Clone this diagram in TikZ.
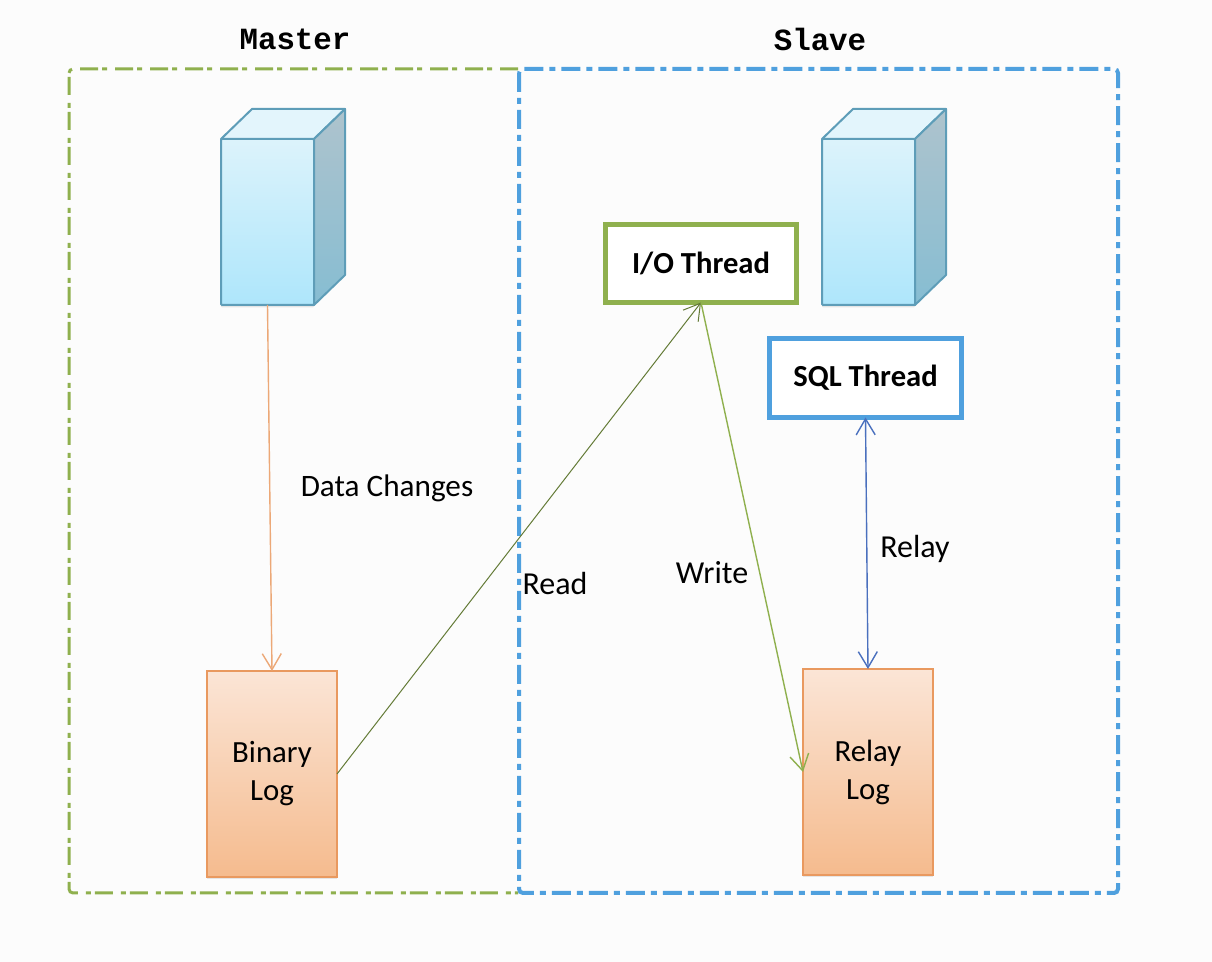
\documentclass[tikz,border=0pt]{standalone}
\usepackage{fontspec}
\setmainfont{Carlito}
\newfontfamily\titlefont{Liberation Mono}
\usetikzlibrary{arrows.meta,shadows}

\definecolor{masterGreen}{HTML}{8FB04E}
\definecolor{slaveBlue}{HTML}{4FA0DE}
\definecolor{logEdge}{HTML}{E9995F}
\definecolor{boxEdge}{HTML}{5E9DB8}
\definecolor{relayBlue}{HTML}{4A70BE}
\definecolor{logTop}{HTML}{FBE5D6}
\definecolor{logBottom}{HTML}{F5BB8E}
\definecolor{frontTop}{HTML}{DCF3FB}
\definecolor{frontBottom}{HTML}{AEE6FB}
\definecolor{topFace}{HTML}{E3F5FC}
\definecolor{sideTop}{HTML}{AEC3CD}
\definecolor{sideBottom}{HTML}{86BDD2}

\tikzset{
  >={Straight Barb[length=8pt,width=9.5pt]},
  softshadow/.style={drop shadow={shadow xshift=0pt,shadow yshift=-1.2pt,opacity=.18}},
  frame/.style={rounded corners=2pt},
  thread/.style={draw,fill=white,outer sep=0pt,inner sep=0pt,line width=2.4pt,font=\bfseries\fontsize{15.3}{17}\selectfont},
  logbox/.style={draw=logEdge,line width=1pt,top color=logTop,bottom color=logBottom,outer sep=0pt,softshadow,
    minimum width=65pt,minimum height=103pt,align=center,font=\fontsize{15.4}{19}\selectfont},
  server/.style={draw=boxEdge,line width=1pt,top color=frontTop,bottom color=frontBottom,outer sep=0pt,softshadow,
    minimum width=46.5pt,minimum height=83pt,rounded corners=0.5pt},
  label/.style={font=\fontsize{16}{18}\selectfont},
  heading/.style={font=\titlefont\bfseries\fontsize{15.4}{18}\selectfont}
}

% front face is the node, the other two faces hang on its corners
\newcommand{\servercase}[1]{
  \draw[boxEdge,line width=1pt,line join=round,fill=topFace] (#1.north west) -- ++(31,-30) -- ++(93,0) -- (#1.north east) -- cycle;
  \draw[boxEdge,line width=1pt,line join=round,top color=sideTop,bottom color=sideBottom] (#1.north east) -- ++(31,-30) -- ++(0,166) -- (#1.south east) -- cycle;
}

\begin{document}
\begin{tikzpicture}[x=0.5pt,y=-0.5pt]
  \useasboundingbox[fill=black!1] (0,0) rectangle (1212,962);

  % frames
  \draw[frame,masterGreen,line width=1.5pt,dash pattern=on 9pt off 4pt on 2.5pt off 2pt] (518,69) -- (69,69) -- (69,893) -- (518,893);
  \draw[frame,slaveBlue,line width=2pt,dash pattern=on 9.5pt off 3pt on 3pt off 3pt] (519,69) rectangle (1118,893);
  \node[heading] (master) at (295,39) {Master};
  \node[heading] (slave) at (820,39) {Slave};

  % servers
  \node[server] (masterdb) at (267.5,222) {};
  \servercase{masterdb}
  \node[server] (slavedb) at (868.5,222) {};
  \servercase{slavedb}

  % logs
  \node[logbox] (binlog) at (272,774) {Binary\\Log};
  \node[logbox] (relaylog) at (868,772) {Relay\\Log};

  % threads
  \node[thread,draw=masterGreen,minimum width=95.5pt,minimum height=39pt] (io) at (701,263.5) {I/O Thread};
  \node[thread,draw=slaveBlue,minimum width=96pt,minimum height=39.5pt] (sql) at (865.5,378) {SQL Thread};

  % connectors
  \draw[->,color=logEdge!85,line width=0.7pt] (masterdb.south) -- (binlog.north);
  \draw[->,color=masterGreen!70!black,line width=0.5pt] (binlog.east) -- (io.south);
  \draw[->,color=masterGreen,line width=0.7pt] (io.south) -- (relaylog.west);
  \draw[<->,color=relayBlue,line width=0.7pt] (sql.south) -- (relaylog.north);

  % labels
  \node[label,font=\fontsize{15.6}{18}\selectfont] (changes) at (387,488) {Data Changes};
  \node[label] (read) at (555,584) {Read};
  \node[label] (write) at (712,573) {Write};
  \node[label] (relay) at (915,549) {Relay};
\end{tikzpicture}
\end{document}
